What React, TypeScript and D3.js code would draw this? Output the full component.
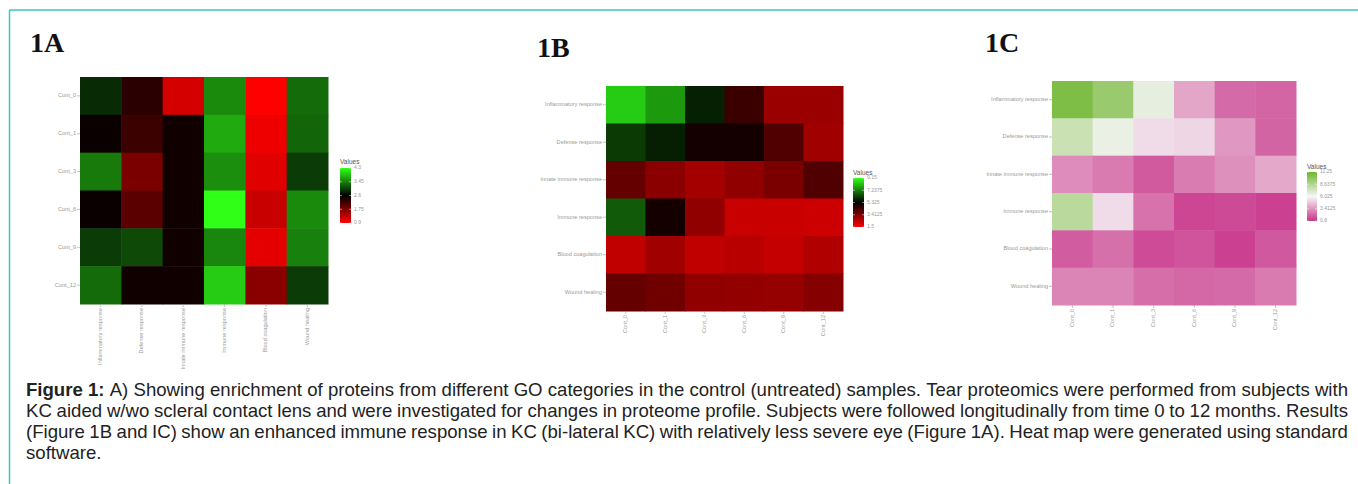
import React, { useMemo } from "react";
import * as d3 from "d3";

const CATS = [
  "Inflammatory response",
  "Defense response",
  "Innate immune response",
  "Immune response",
  "Blood coagulation",
  "Wound healing",
];
const SAMPLES = ["Cont_0", "Cont_1", "Cont_3", "Cont_6", "Cont_9", "Cont_12"];

// 1A: rows = samples, cols = categories
const VALUES_1A = [
  [2.88, 2.32, 1.19, 3.52, 0.9, 3.31],
  [2.53, 2.21, 2.49, 3.73, 1.01, 3.27],
  [3.41, 1.79, 2.49, 3.55, 1.11, 2.99],
  [2.53, 2.0, 2.49, 4.3, 1.27, 3.52],
  [2.99, 3.09, 2.49, 3.49, 1.08, 3.45],
  [3.31, 2.49, 2.49, 3.96, 1.68, 2.99],
];
// 1B: rows = categories, cols = samples
const VALUES_1B = [
  [8.39, 7.62, 5.8, 4.46, 3.02, 3.02],
  [6.2, 5.79, 5.01, 5.01, 4.13, 2.93],
  [3.81, 3.26, 2.85, 3.17, 3.5, 4.13],
  [6.68, 5.01, 3.17, 2.33, 2.33, 2.27],
  [2.45, 2.93, 2.45, 2.57, 2.37, 2.69],
  [3.81, 3.65, 3.17, 3.14, 3.09, 3.33],
];
// 1C: rows = categories, cols = samples
const VALUES_1C = [
  [10.58, 9.55, 6.65, 3.84, 2.23, 2.09],
  [7.77, 6.51, 5.3, 5.14, 3.47, 2.07],
  [3.14, 2.66, 1.8, 2.71, 3.25, 3.9],
  [8.36, 5.3, 2.44, 1.26, 1.37, 1.1],
  [1.85, 2.39, 1.42, 1.64, 1.1, 1.74],
  [2.93, 2.93, 2.34, 2.17, 2.23, 2.66],
];

const TICKS_1A = [0.9, 1.75, 2.6, 3.45, 4.3];
const TICKS_1B = [1.5, 3.4125, 5.325, 7.2375, 9.15];
const TICKS_1C = [0.8, 3.4125, 6.025, 8.6375, 11.25];

const CAPTION_BOLD = "Figure 1:";
const CAPTION_LINES = [
  "Figure 1: A) Showing enrichment of proteins from different GO categories in the control (untreated) samples. Tear proteomics were performed from subjects with",
  "KC aided w/wo scleral contact lens and were investigated for changes in proteome profile. Subjects were followed longitudinally from time 0 to 12 months. Results",
  "(Figure 1B and IC) show an enhanced immune response in KC (bi-lateral KC) with relatively less severe eye (Figure 1A). Heat map were generated using standard",
  "software.",
];

const LABEL_FONT = "'Liberation Sans', Arial, sans-serif";
const LABEL_COLOR = "#9a9a9a";

type PanelProps = {
  id: string;
  title: string;
  titleX: number;
  titleY: number;
  x0: number;
  x1: number;
  y0: number;
  y1: number;
  rows: string[];
  cols: string[];
  values: number[][];
  ticks: number[];
  colors: string[];
  legX: number;
  legW: number;
  legY0: number;
  legY1: number;
  legTitleY: number;
};

function Panel(p: PanelProps) {
  const xs = d3.scaleBand<string>().domain(p.cols).range([p.x0, p.x1]);
  const ys = d3.scaleBand<string>().domain(p.rows).range([p.y0, p.y1]);
  const lo = p.ticks[0];
  const hi = p.ticks[p.ticks.length - 1];
  const mid = (lo + hi) / 2;
  const color = d3
    .scaleLinear<string>()
    .domain([lo, mid, hi])
    .range(p.colors)
    .interpolate(d3.interpolateRgb)
    .clamp(true);
  const ly = d3.scaleLinear().domain([lo, hi]).range([p.legY1, p.legY0]);
  const stops = d3.range(0, 1.0001, 0.05);
  const gid = "grad" + p.id;
  return (
    <g>
      <text
        x={p.titleX}
        y={p.titleY}
        fontFamily="'Liberation Serif', 'Times New Roman', serif"
        fontWeight="bold"
        fontSize={28}
        fill="#111"
      >
        {p.title}
      </text>
      {p.rows.map((r, i) =>
        p.cols.map((c, j) => (
          <rect
            key={r + c}
            x={xs(c)}
            y={ys(r)}
            width={xs.bandwidth() + 0.5}
            height={ys.bandwidth() + 0.5}
            fill={color(p.values[i][j])}
          />
        ))
      )}
      {p.rows.map((r) => {
        const cy = (ys(r) as number) + ys.bandwidth() / 2;
        return (
          <g key={"rl" + r}>
            <line x1={p.x0 - 3} x2={p.x0} y1={cy} y2={cy} stroke={LABEL_COLOR} strokeWidth={0.6} />
            <text
              x={p.x0 - 4}
              y={cy}
              textAnchor="end"
              dominantBaseline="middle"
              fontFamily={LABEL_FONT}
              fontSize={5.6}
              fill={LABEL_COLOR}
            >
              {r}
            </text>
          </g>
        );
      })}
      {p.cols.map((c) => {
        const cx = (xs(c) as number) + xs.bandwidth() / 2;
        return (
          <g key={"cl" + c}>
            <line x1={cx} x2={cx} y1={p.y1} y2={p.y1 + 3} stroke={LABEL_COLOR} strokeWidth={0.6} />
            <text
              transform={`translate(${cx},${p.y1 + 4}) rotate(-90)`}
              textAnchor="end"
              dominantBaseline="middle"
              fontFamily={LABEL_FONT}
              fontSize={5.6}
              fill={LABEL_COLOR}
            >
              {c}
            </text>
          </g>
        );
      })}
      <defs>
        <linearGradient id={gid} x1="0" y1="1" x2="0" y2="0">
          {stops.map((s) => (
            <stop key={s} offset={s} stopColor={color(lo + s * (hi - lo))} />
          ))}
        </linearGradient>
      </defs>
      <text
        x={p.legX}
        y={p.legTitleY}
        fontFamily={LABEL_FONT}
        fontSize={6.5}
        fill="#555"
      >
        Values
      </text>
      <rect x={p.legX} y={p.legY0} width={p.legW} height={p.legY1 - p.legY0} fill={`url(#${gid})`} />
      {p.ticks.map((t) => (
        <g key={"t" + t}>
          <line x1={p.legX} x2={p.legX + 2} y1={ly(t)} y2={ly(t)} stroke="#fff" strokeWidth={0.5} />
          <line x1={p.legX + p.legW - 2} x2={p.legX + p.legW} y1={ly(t)} y2={ly(t)} stroke="#fff" strokeWidth={0.5} />
          <text
            x={p.legX + p.legW + 3}
            y={ly(t)}
            dominantBaseline="middle"
            fontFamily={LABEL_FONT}
            fontSize={5}
            fill={LABEL_COLOR}
          >
            {t}
          </text>
        </g>
      ))}
    </g>
  );
}

function Caption() {
  const left = 26;
  const right = 1348;
  const fontSize = 17.5;
  const baseY = 396;
  const lh = 21;
  const fam = `"Liberation Sans", Arial, sans-serif`;
  const { lines, scale } = useMemo(() => {
    const ctx = document.createElement("canvas").getContext("2d") as CanvasRenderingContext2D;
    const boldWords = CAPTION_BOLD.split(" ");
    ctx.font = `${fontSize}px ${fam}`;
    const sp = ctx.measureText(" ").width;
    const measured = CAPTION_LINES.map((line, li) => {
      const words = line.split(" ");
      return words.map((w, wi) => {
        const bold = li === 0 && wi < boldWords.length;
        ctx.font = `${bold ? "bold " : ""}${fontSize}px ${fam}`;
        return { w, bold, width: ctx.measureText(w).width };
      });
    });
    const first = measured[0];
    const nat = first.reduce((a, b) => a + b.width, 0) + sp * (first.length - 1);
    const s = Math.max(1, (right - left) / nat);
    const W = (right - left) / s;
    const out = measured.map((info, li) => {
      const total = info.reduce((a, b) => a + b.width, 0);
      const justify = li < CAPTION_LINES.length - 1 && info.length > 1;
      const gap = justify ? (W - total) / (info.length - 1) : sp;
      let x = 0;
      return info.map((it) => {
        const r = { ...it, x };
        x += it.width + gap;
        return r;
      });
    });
    return { lines: out, scale: s };
  }, []);
  return (
    <g
      transform={`translate(${left},0) scale(${scale},1)`}
      fontFamily={fam}
      fontSize={fontSize}
      fill="#222"
    >
      {lines.map((ws, li) => (
        <text key={li} y={baseY + li * lh}>
          {ws.map((w, wi) => (
            <tspan key={wi} x={w.x} fontWeight={w.bold ? "bold" : "normal"}>
              {w.w}
            </tspan>
          ))}
        </text>
      ))}
    </g>
  );
}

export default function App() {
  if (typeof document !== "undefined") document.body.style.margin = "0";
  const RG = ["#ff0000", "#000000", "#30ff18"];
  const PG = ["#c8358a", "#f7f7f7", "#6cb52c"];
  return (
    <svg
      width={1358}
      height={484}
      style={{ position: "absolute", left: 0, top: 0, background: "#fff" }}
    >
      <rect x={0} y={0} width={1358} height={484} fill="#fff" />
      <line x1={9} x2={1358} y1={10} y2={10} stroke="#3cc9b6" strokeWidth={1.5} />
      <line x1={9.5} x2={9.5} y1={10} y2={484} stroke="#3cc9b6" strokeWidth={1.5} />
      <Panel
        id="A"
        title="1A"
        titleX={30}
        titleY={52}
        x0={80}
        x1={328}
        y0={77}
        y1={304}
        rows={SAMPLES}
        cols={CATS}
        values={VALUES_1A}
        ticks={TICKS_1A}
        colors={RG}
        legX={340}
        legW={11}
        legY0={168}
        legY1={223}
        legTitleY={164}
      />
      <Panel
        id="B"
        title="1B"
        titleX={537}
        titleY={57}
        x0={606}
        x1={843}
        y0={86}
        y1={311}
        rows={CATS}
        cols={SAMPLES}
        values={VALUES_1B}
        ticks={TICKS_1B}
        colors={RG}
        legX={853}
        legW={11}
        legY0={178}
        legY1={227}
        legTitleY={175}
      />
      <Panel
        id="C"
        title="1C"
        titleX={985}
        titleY={52}
        x0={1052}
        x1={1296}
        y0={81}
        y1={305}
        rows={CATS}
        cols={SAMPLES}
        values={VALUES_1C}
        ticks={TICKS_1C}
        colors={PG}
        legX={1307}
        legW={10}
        legY0={172}
        legY1={221}
        legTitleY={169}
      />
      <Caption />
    </svg>
  );
}
